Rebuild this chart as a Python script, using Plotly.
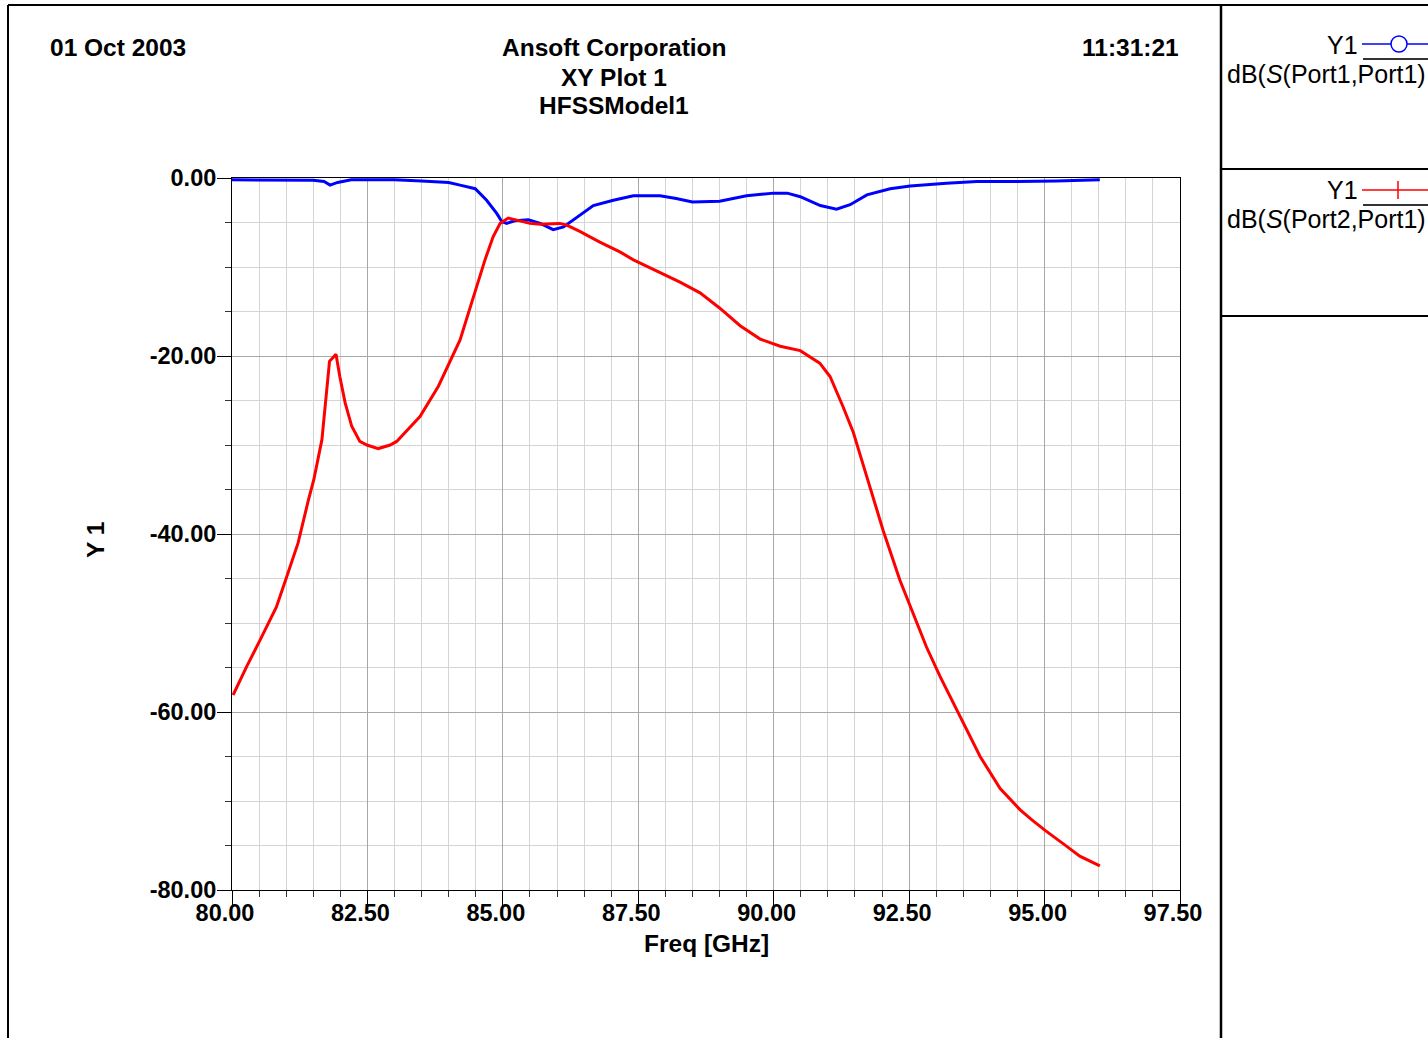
import plotly.graph_objects as go

# ---- data ----
freq_s21 = [80.02, 80.27, 80.52, 80.82, 81.01, 81.22, 81.41, 81.51, 81.59, 81.66, 81.80, 81.92,
            81.99, 82.09, 82.21, 82.36, 82.49, 82.70, 82.92, 83.04, 83.47, 83.81, 84.21, 84.49,
            84.67, 84.82, 84.95, 85.10, 85.32, 85.50, 85.69, 86.05, 86.18, 86.42, 86.79, 87.16,
            87.41, 87.90, 88.27, 88.64, 89.00, 89.38, 89.75, 90.12, 90.49, 90.85, 91.04, 91.28,
            91.47, 91.59, 91.78, 92.02, 92.33, 92.52, 92.82, 93.07, 93.44, 93.81, 94.18, 94.55,
            94.76, 95.01, 95.41, 95.65, 96.02]
s21_db = [-58.1, -54.9, -51.9, -48.2, -44.8, -41.0, -36.2, -33.9, -31.5, -29.4, -20.6, -19.8,
          -22.3, -25.3, -27.9, -29.6, -30.0, -30.4, -30.0, -29.6, -26.8, -23.4, -18.2, -12.6,
          -9.2, -6.6, -5.1, -4.5, -4.8, -5.1, -5.2, -5.1, -5.3, -6.0, -7.2, -8.3,
          -9.2, -10.6, -11.7, -12.9, -14.6, -16.6, -18.1, -18.9, -19.4, -20.8, -22.3, -25.7,
          -28.6, -31.0, -34.9, -39.6, -45.2, -48.2, -52.7, -56.0, -60.5, -65.0, -68.6, -71.0,
          -72.1, -73.3, -75.1, -76.2, -77.3]

freq_s11 = [80.0, 80.5, 81.0, 81.5, 81.7, 81.81, 81.95, 82.2, 82.5, 83.0, 83.5, 84.0, 84.21,
            84.49, 84.70, 84.89, 84.98, 85.07, 85.22, 85.47, 85.69, 85.93, 86.12, 86.30, 86.67,
            87.04, 87.41, 87.90, 88.20, 88.50, 89.00, 89.50, 90.00, 90.25, 90.49, 90.86, 91.16,
            91.41, 91.72, 92.15, 92.52, 93.19, 93.75, 94.50, 95.22, 96.02]
s11_db = [-0.2, -0.2, -0.2, -0.25, -0.4, -0.8, -0.5, -0.2, -0.2, -0.2, -0.35, -0.5, -0.8,
          -1.2, -2.5, -4.0, -4.9, -5.1, -4.8, -4.7, -5.1, -5.8, -5.5, -4.7, -3.1,
          -2.5, -2.0, -2.0, -2.3, -2.7, -2.6, -2.0, -1.7, -1.7, -2.1, -3.1, -3.5,
          -3.0, -1.9, -1.2, -0.9, -0.6, -0.4, -0.4, -0.35, -0.2]

x_range = [80.0, 97.5]
y_range = [-80.0, 0.0]
y_tickvals = [0, -20, -40, -60, -80]
y_ticktext = ["0.00", "-20.00", "-40.00", "-60.00", "-80.00"]

# ---- layout geometry (pixels) ----
W, H = 1428, 1038
L, R, T, B = 232, 1180, 178, 890


def px(x):
    return (x - L) / (R - L)


def py(y):
    return (B - y) / (B - T)


FONT = "Liberation Sans, Arial, sans-serif"

fig = go.Figure()
fig.add_trace(go.Scatter(x=freq_s11, y=s11_db, mode="lines",
                         line=dict(color="#0000ff", width=3), name="dB(S(Port1,Port1))"))
fig.add_trace(go.Scatter(x=freq_s21, y=s21_db, mode="lines",
                         line=dict(color="#ff0000", width=3), name="dB(S(Port2,Port1))"))

tickfont = dict(family=FONT, size=23.5, color="black", weight="bold")
axis_common = dict(
    showline=True, linecolor="black", linewidth=1, mirror=True,
    ticks="outside", tickcolor="black",
    tickfont=tickfont,
    showgrid=True, gridcolor="#a8a8a8", gridwidth=1, zeroline=False,
)

fig.update_xaxes(range=x_range, tickmode="linear", dtick=2.5, tick0=80, tickformat=".2f",
                 ticklen=16, ticklabelstandoff=-14, ticklabelshift=-7, **axis_common,
                 minor=dict(dtick=0.5, tick0=80, ticks="outside", ticklen=6, tickcolor="#333",
                            showgrid=True, gridcolor="#d4d4d4", gridwidth=1))
fig.update_yaxes(range=y_range, tickmode="array", tickvals=y_tickvals, ticktext=y_ticktext,
                 ticklen=14, ticklabelstandoff=-4, **axis_common,
                 minor=dict(tickmode="linear", dtick=5, tick0=0, ticks="outside", ticklen=6,
                            tickcolor="#333", showgrid=True, gridcolor="#d4d4d4", gridwidth=1))

bold = dict(family=FONT, size=24.5, color="black", weight="bold")
reg = dict(family=FONT, size=25, color="black")

ann = []


def add_text(text, x, y, xanchor="center", font=bold):
    ann.append(dict(text=text, x=px(x), y=py(y), xref="paper", yref="paper",
                    xanchor=xanchor, yanchor="middle", showarrow=False, font=font))


add_text("01 Oct 2003", 48, 48, "left")
add_text("Ansoft Corporation", 614, 48)
add_text("XY Plot 1", 614, 77)
add_text("HFSSModel1", 614, 106)
add_text("11:31:21", 1181, 48, "right")
add_text("Freq [GHz]", 706, 944)
ann.append(dict(text="Y 1", x=px(95), y=py(540), xref="paper", yref="paper",
                xanchor="center", yanchor="middle", showarrow=False, font=bold,
                textangle=-90))
add_text("Y1", 1360, 45, "right", reg)
add_text("dB(<i>S</i>(Port1,Port1)", 1225, 74, "left", reg)
add_text("Y1", 1360, 190, "right", reg)
add_text("dB(<i>S</i>(Port2,Port1)", 1225, 219, "left", reg)

shapes = []


def line(x0, y0, x1, y1, color="black", width=2):
    shapes.append(dict(type="line", xref="paper", yref="paper",
                       x0=px(x0), y0=py(y0), x1=px(x1), y1=py(y1),
                       line=dict(color=color, width=width)))


# outer frame and legend panel
line(8, 5, 1428, 5, width=2)
line(8, 5, 8, 1038, width=2)
line(1221, 5, 1221, 1038, width=2.5)
line(1221, 169, 1428, 169, width=2)
line(1221, 316, 1428, 316, width=2)
# legend swatches
line(1362, 44, 1428, 44, "#0000ff", 1.5)
shapes.append(dict(type="circle", xref="paper", yref="paper",
                   x0=px(1391), x1=px(1407), y0=py(36), y1=py(52),
                   line=dict(color="#0000ff", width=1.5), fillcolor="white"))
line(1363, 59, 1428, 59, "#333333", 2)
line(1362, 190, 1428, 190, "#ff0000", 1.5)
line(1398, 181, 1398, 199, "#ff0000", 1.5)
line(1363, 205, 1428, 205, "#333333", 2)

fig.update_layout(
    width=W, height=H,
    margin=dict(l=L, r=W - R, t=T, b=H - B, pad=0),
    paper_bgcolor="white", plot_bgcolor="white",
    showlegend=False,
    annotations=ann, shapes=shapes,
)

fig.write_html("out.html", config={"displayModeBar": False},
               post_script="document.body.style.margin='0';")
